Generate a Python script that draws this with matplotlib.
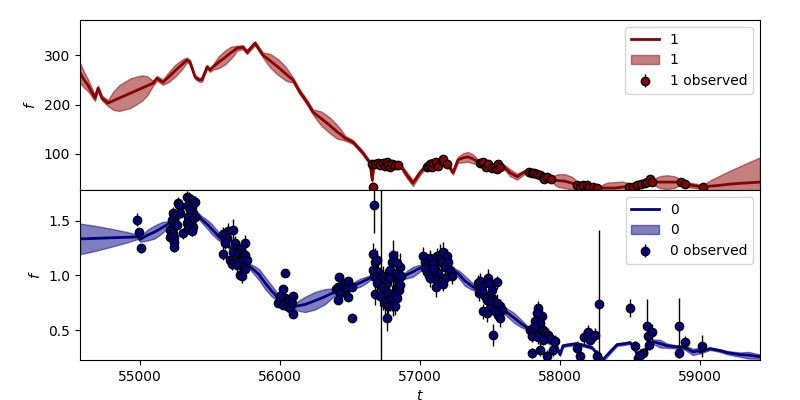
import matplotlib
matplotlib.use("Agg")
import matplotlib.pyplot as plt
import numpy as np

# ---- band "1" (top panel): predicted mean / sd and observations ----
t1_pred = [54571, 54600, 54628, 54678, 54700, 54728, 54771,
           54811, 54851, 54932, 55012, 55053, 55093,
           55121, 55164, 55186, 55207, 55250, 55293, 55315, 55336,
           55357, 55393, 55422, 55443, 55479, 55500, 55522,
           55543, 55564, 55607, 55650, 55672, 55693,
           55736, 55765, 55822, 55879,
           55906, 55933, 55986, 56039, 56066, 56093,
           56143, 56193, 56236,
           56265, 56294, 56351, 56408, 56437, 56465,
           56522, 56587, 56644, 56660, 56672, 56773, 56858, 56908, 56951,
           57001, 57037, 57108, 57180, 57216, 57237, 57273,
           57308, 57344, 57380, 57416, 57502, 57573,
           57609, 57645, 57695, 57752, 57788, 57859, 57945,
           57968, 57991, 58038, 58085, 58108, 58124,
           58217, 58288,
           58315, 58342, 58395, 58448, 58475, 58502,
           58610, 58667,
           58692, 58717, 58767, 58817, 58842, 58860,
           58931, 59024, 59080, 59130, 59217, 59320, 59432]
f1_pred = [264, 250, 239, 213, 233, 213, 203,
           208, 213, 223, 233, 238, 243,
           253, 245, 251, 256, 268, 279, 285, 290,
           286, 256, 250, 250, 276, 270, 276,
           281, 286, 295, 305, 309, 314,
           316, 306, 324, 300,
           294, 288, 276, 263, 256, 250,
           225, 205, 185,
           178, 172, 159, 145, 139, 132,
           124, 104, 82, 47, 78, 82, 78, 57, 41,
           62, 74, 84, 82, 72, 62, 88,
           92, 94, 90, 84, 78, 76,
           72, 62, 54, 64, 64, 56, 48,
           47, 46, 45, 41, 39, 37,
           33, 31,
           31, 31, 31, 33, 34, 35,
           41, 43,
           43, 43, 43, 43, 43, 43,
           37, 33, 35, 36, 39, 41, 43]
s1_pred = [20, 16, 12, 6, 5, 5, 6,
           19, 26, 30, 26, 19, 5,
           5, 5, 8, 10, 12, 10, 8, 5,
           4, 4, 4, 4, 4, 4, 5,
           9, 12, 14, 12, 9, 5,
           4, 4, 4, 5,
           10, 14, 16, 14, 10, 5,
           5, 5, 5,
           10, 14, 16, 14, 10, 5,
           4, 4, 4, 4, 4, 3, 4, 6, 6,
           5, 4, 3, 3, 4, 4, 6,
           9, 10, 9, 5, 3, 3,
           5, 7, 6, 4, 3, 3, 4,
           10, 13, 14, 13, 10, 4,
           3, 4,
           8, 11, 12, 11, 8, 4,
           3, 4,
           9, 12, 14, 12, 9, 4,
           5, 4, 12, 18, 27, 38, 50]

t1_obs = [56668, 56656, 56680, 56704, 56715, 56739, 56751, 56763, 56775, 56787, 56799, 56823, 56847,
          57049, 57061, 57073, 57085, 57097, 57116, 57132, 57156, 57168, 57192,
          57430, 57442, 57454, 57473, 57490, 57513, 57537, 57549, 57561, 57573,
          57783, 57799, 57816, 57835, 57859, 57878, 57888, 57907, 57935,
          58121, 58145, 58164, 58192, 58212, 58240, 58264,
          58498, 58526, 58555, 58579, 58610, 58626, 58645, 58657,
          58864, 58895, 59026]
f1_obs = [34, 79.8, 79.8, 82.5, 77.8, 81.2, 75.8, 84.5, 77.8, 74.4, 79.8, 77.8, 77.8,
          73.1, 75.8, 79.8, 73.1, 81.2, 84.5, 75.8, 86.5, 89.2, 79.8,
          81.1, 82.0, 84.5, 74.4, 79.8, 71.0, 74.4, 69.0, 79.8, 74.4,
          64.3, 62.3, 61.0, 59.6, 57.6, 54.2, 48.8, 54.2, 48.8,
          37.4, 34.0, 37.4, 37.4, 34.0, 34.0, 30.6,
          34.0, 34.0, 37.4, 39.4, 40.7, 44.1, 48.8, 42.8,
          44.1, 39.4, 34.0]
e1_obs = [2.0] * len(t1_obs)

# ---- band "0" (bottom panel) ----
t0_pred = [54571, 54680, 54785, 54900, 54986, 55000,
           55027, 55054, 55107, 55160, 55187, 55214,
           55286, 55310, 55330, 55393, 55440,
           55480, 55510, 55550, 55586,
           55650, 55715, 55786,
           55820, 55850, 55893, 55940, 55970, 56001,
           56050, 56094,
           56140, 56180, 56251, 56320, 56360, 56408,
           56450, 56501,
           56530, 56572, 56615, 56644,
           56751, 56880,
           56910, 56951, 56990, 57023,
           57144, 57237,
           57280, 57323, 57365, 57409,
           57502, 57573,
           57620, 57673, 57720, 57766,
           57859, 57980, 58002,
           58024, 58074, 58124, 58181, 58231, 58274, 58310, 58360, 58410,
           58467, 58502, 58531, 58560, 58603, 58631, 58667, 58717, 58767,
           58824, 58896, 58953, 58990, 59003, 59074, 59146, 59196, 59289,
           59350, 59432]
f0_pred = [1.335, 1.340, 1.345, 1.350, 1.354, 1.330,
           1.35, 1.37, 1.40, 1.44, 1.46, 1.48,
           1.545, 1.635, 1.615, 1.585, 1.515,
           1.47, 1.43, 1.375, 1.326,
           1.25, 1.17, 1.08,
           1.045, 1.01, 0.933, 0.86, 0.82, 0.778,
           0.745, 0.714,
           0.725, 0.735, 0.769, 0.805, 0.83, 0.851,
           0.87, 0.888,
           0.91, 0.933, 0.958, 0.979,
           0.97, 0.988,
           1.01, 1.034, 1.06, 1.08,
           1.098, 1.052,
           1.01, 0.95, 0.91, 0.87,
           0.796, 0.714,
           0.665, 0.613, 0.565, 0.522,
           0.44, 0.348, 0.275,
           0.357, 0.367, 0.376, 0.357, 0.339, 0.275, 0.23, 0.30, 0.367,
           0.376, 0.385, 0.348, 0.257, 0.30, 0.367, 0.394, 0.376, 0.357,
           0.348, 0.339, 0.30, 0.31, 0.30, 0.33, 0.312, 0.294, 0.275,
           0.27, 0.257]
s0_pred = [0.14, 0.115, 0.085, 0.05, 0.02, 0.02,
           0.035, 0.05, 0.06, 0.05, 0.035, 0.02,
           0.02, 0.02, 0.02, 0.02, 0.03,
           0.04, 0.045, 0.04, 0.025,
           0.02, 0.02, 0.025,
           0.04, 0.05, 0.055, 0.05, 0.04, 0.02,
           0.02, 0.02,
           0.05, 0.07, 0.08, 0.07, 0.05, 0.02,
           0.02, 0.02,
           0.03, 0.037, 0.03, 0.02,
           0.02, 0.02,
           0.035, 0.045, 0.035, 0.02,
           0.02, 0.02,
           0.035, 0.045, 0.035, 0.02,
           0.02, 0.02,
           0.035, 0.045, 0.035, 0.02,
           0.02, 0.015, 0.012,
           0.012, 0.012, 0.012, 0.012, 0.012, 0.012, 0.015, 0.015, 0.012,
           0.012, 0.012, 0.012, 0.015, 0.015, 0.015, 0.02, 0.035, 0.02,
           0.015, 0.02, 0.03, 0.025, 0.015, 0.012, 0.012, 0.015, 0.02,
           0.03, 0.02]

t0_obs = [54981, 54995, 55005,
          55274, 55279, 55238, 55243, 55226, 55250, 55233, 55262, 55214, 55238, 55214, 55245, 55243, 55245, 55286, 55310,
          55333, 55353, 55369, 55393, 55345, 55369, 55357, 55381, 55393, 55345, 55369, 55333, 55357, 55381, 55345, 55369,
          55596, 55631, 55667, 55620, 55608, 55596, 55679, 55750, 55691, 55715, 55667, 55703, 55739, 55750, 55643, 55679,
          55727, 55762, 55655, 55691, 55739, 55750, 55715, 55727,
          56037, 56025, 56001, 56013, 56037, 56060, 56096, 55989, 56025, 56048, 56072, 56096, 56001, 56084,
          56425, 56401, 56418, 56441, 56465, 56489, 56453, 56477, 56430, 56489, 56418, 56513, 56513,
          56673, 56668, 56680, 56692, 56663, 56704, 56673, 56715, 56692, 56739, 56751, 56763, 56727, 56751, 56739,
          56775, 56787, 56751, 56775, 56811, 56799, 56823, 56835, 56847, 56811, 56835, 56858, 56811, 56799, 56835,
          56863, 56854, 56835, 56823, 56768, 56680, 56715, 56787, 56782, 56858, 56720,
          57025, 57037, 57061, 57073, 57097, 57109, 57121, 57144, 57156, 57168, 57180, 57192, 57204, 57216, 57228,
          57132, 57085, 57049, 57073, 57121, 57156, 57180, 57116, 57168, 57097, 57037,
          57418, 57430, 57442, 57425, 57490, 57497, 57549, 57466, 57478, 57513, 57525, 57549, 57573, 57585, 57454,
          57478, 57501, 57537, 57561, 57573, 57525, 57442, 57513,
          57847, 57871, 57835, 57823, 57859, 57787, 57811, 57883, 57895, 57919, 57930, 57966, 57799, 57847, 57859,
          57799, 57911, 57954, 57878, 57823,
          58121, 58145, 58173, 58204, 58216, 58252, 58264, 58283,
          58502, 58538, 58562, 58598, 58621, 58633, 58657, 58640, 58574,
          58855, 58855, 58895, 59015]
f0_obs = [1.509, 1.397, 1.25,
          1.667, 1.646, 1.570, 1.539, 1.509, 1.478, 1.448, 1.463, 1.417, 1.393, 1.350, 1.356, 1.311, 1.265, 1.576, 1.387,
          1.722, 1.707, 1.692, 1.676, 1.646, 1.631, 1.600, 1.570, 1.539, 1.539, 1.509, 1.478, 1.463, 1.448, 1.423, 1.411,
          1.381, 1.411, 1.417, 1.341, 1.295, 1.198, 1.295, 1.295, 1.250, 1.241, 1.219, 1.204, 1.198, 1.189, 1.143, 1.128,
          1.137, 1.143, 1.107, 1.097, 1.082, 1.058, 1.006, 0.991,
          1.027, 0.875, 0.802, 0.778, 0.793, 0.762, 0.814, 0.747, 0.732, 0.717, 0.701, 0.650, 0.814, 0.747,
          0.985, 0.875, 0.899, 0.915, 0.930, 0.945, 0.869, 0.884, 0.838, 0.802, 0.778, 0.899, 0.610,
          1.646, 1.198, 1.128, 1.143, 1.052, 1.036, 0.991, 0.976, 0.930, 0.997, 0.960, 0.930, 0.899, 0.869, 0.808,
          0.838, 0.778, 0.747, 0.717, 0.732, 0.793, 0.838, 0.899, 0.960, 0.991, 1.021, 1.082, 1.189, 1.128, 1.113,
          0.991, 0.869, 0.793, 0.717, 0.610, 0.832, 0.808, 1.052, 0.976, 0.915, -1.0,
          1.180, 1.128, 1.097, 1.158, 1.113, 1.052, 1.174, 1.189, 1.128, 1.219, 1.082, 1.174, 1.128, 1.052, 0.991,
          1.021, 1.021, 1.036, 0.976, 0.960, 0.945, 0.976, 0.893, 0.924, 1.067, 1.067,
          0.930, 0.946, 0.900, 0.839, 0.976, 0.930, 0.939, 0.808, 0.778, 0.793, 0.763, 0.748, 0.717, 0.687, 0.671,
          0.656, 0.702, 0.671, 0.641, 0.610, 0.458, 0.854, 0.869,
          0.702, 0.626, 0.656, 0.580, 0.565, 0.504, 0.489, 0.504, 0.473, 0.458, 0.428, 0.397, 0.443, 0.437, 0.321,
          0.290, 0.266, 0.321, 0.412, 0.534,
          0.336, 0.266, 0.437, 0.479, 0.412, 0.458, 0.266, 0.741,
          0.701, 0.351, 0.244, 0.290, 0.534, 0.442, 0.482, 0.366, 0.275,
          0.540, 0.290, 0.390, 0.357]
e0_obs = [0.06, 0.04, 0.04,
          0.05, 0.04, 0.06, 0.05, 0.04, 0.05, 0.06, 0.04, 0.05, 0.04, 0.05, 0.06, 0.04, 0.05, 0.04, 0.05,
          0.05, 0.06, 0.04, 0.05, 0.05, 0.04, 0.06, 0.05, 0.04, 0.05, 0.06, 0.04, 0.05, 0.05, 0.04, 0.05,
          0.06, 0.07, 0.10, 0.06, 0.05, 0.06, 0.07, 0.08, 0.06, 0.05, 0.07, 0.06, 0.05, 0.07, 0.06, 0.05,
          0.06, 0.05, 0.06, 0.07, 0.05, 0.06, 0.05, 0.06,
          0.03, 0.04, 0.03, 0.03, 0.03, 0.04, 0.03, 0.03, 0.03, 0.03, 0.04, 0.03, 0.03, 0.03,
          0.03, 0.04, 0.03, 0.03, 0.03, 0.03, 0.03, 0.04, 0.03, 0.03, 0.04, 0.03, 0.04,
          0.26, 0.10, 0.12, 0.09, 0.10, 0.11, 0.08, 0.10, 0.12, 0.09, 0.10, 0.11, 0.08, 0.10, 0.12,
          0.09, 0.10, 0.11, 0.08, 0.10, 0.12, 0.09, 0.10, 0.11, 0.08, 0.10, 0.12, 0.14, 0.10, 0.11,
          0.09, 0.10, 0.12, 0.08, 0.12, 0.10, 0.09, 0.11, 0.10, 0.09, 3.0,
          0.08, 0.07, 0.09, 0.08, 0.07, 0.09, 0.08, 0.10, 0.07, 0.09, 0.08, 0.07, 0.09, 0.08, 0.07,
          0.08, 0.09, 0.07, 0.08, 0.09, 0.07, 0.08, 0.09, 0.07, 0.08, 0.09,
          0.07, 0.08, 0.06, 0.07, 0.08, 0.09, 0.06, 0.07, 0.08, 0.06, 0.07, 0.08, 0.07, 0.06, 0.07,
          0.08, 0.07, 0.06, 0.07, 0.08, 0.10, 0.07, 0.06,
          0.06, 0.07, 0.05, 0.06, 0.07, 0.05, 0.06, 0.07, 0.05, 0.06, 0.05, 0.06, 0.05, 0.06, 0.06,
          0.05, 0.05, 0.06, 0.05, 0.06,
          0.06, 0.05, 0.06, 0.07, 0.05, 0.06, 0.05, 0.676,
          0.08, 0.05, 0.05, 0.05, 0.25, 0.06, 0.07, 0.05, 0.05,
          0.25, 0.05, 0.06, 0.10]

xlim = (54571, 59432)

fig, (ax1, ax0) = plt.subplots(2, 1, figsize=(8, 4), dpi=100, sharex=True)
fig.subplots_adjust(left=0.1, right=0.95, top=0.95, bottom=0.1, hspace=0)


def draw_band(ax, t_pred, f_pred, s_pred, t_obs, f_obs, e_obs, color, name):
    t_pred = np.array(t_pred)
    f_pred = np.array(f_pred)
    s_pred = np.array(s_pred)
    ax.plot(t_pred, f_pred, color=color, lw=2, label=name)
    ax.fill_between(t_pred, f_pred - s_pred, f_pred + s_pred,
                    color=color, alpha=0.5, label=name)
    ax.errorbar(t_obs, f_obs, yerr=e_obs, fmt='o', color=color, ecolor='k',
                mec='k', ms=6, elinewidth=1, label=name + ' observed', zorder=3)
    ax.set_ylabel('$f$')
    ax.legend(loc='upper right')


draw_band(ax1, t1_pred, f1_pred, s1_pred, t1_obs, f1_obs, e1_obs, 'darkred', '1')
draw_band(ax0, t0_pred, f0_pred, s0_pred, t0_obs, f0_obs, e0_obs, 'navy', '0')

ax1.set_ylim(27, 371)
ax0.set_ylim(0.226, 1.783)
ax0.set_xlim(*xlim)
ax1.set_yticks([100, 200, 300])
ax0.set_yticks([0.5, 1.0, 1.5])
ax0.set_xticks([55000, 56000, 57000, 58000, 59000])
ax0.set_xlabel('$t$')

fig.savefig('out.png')
